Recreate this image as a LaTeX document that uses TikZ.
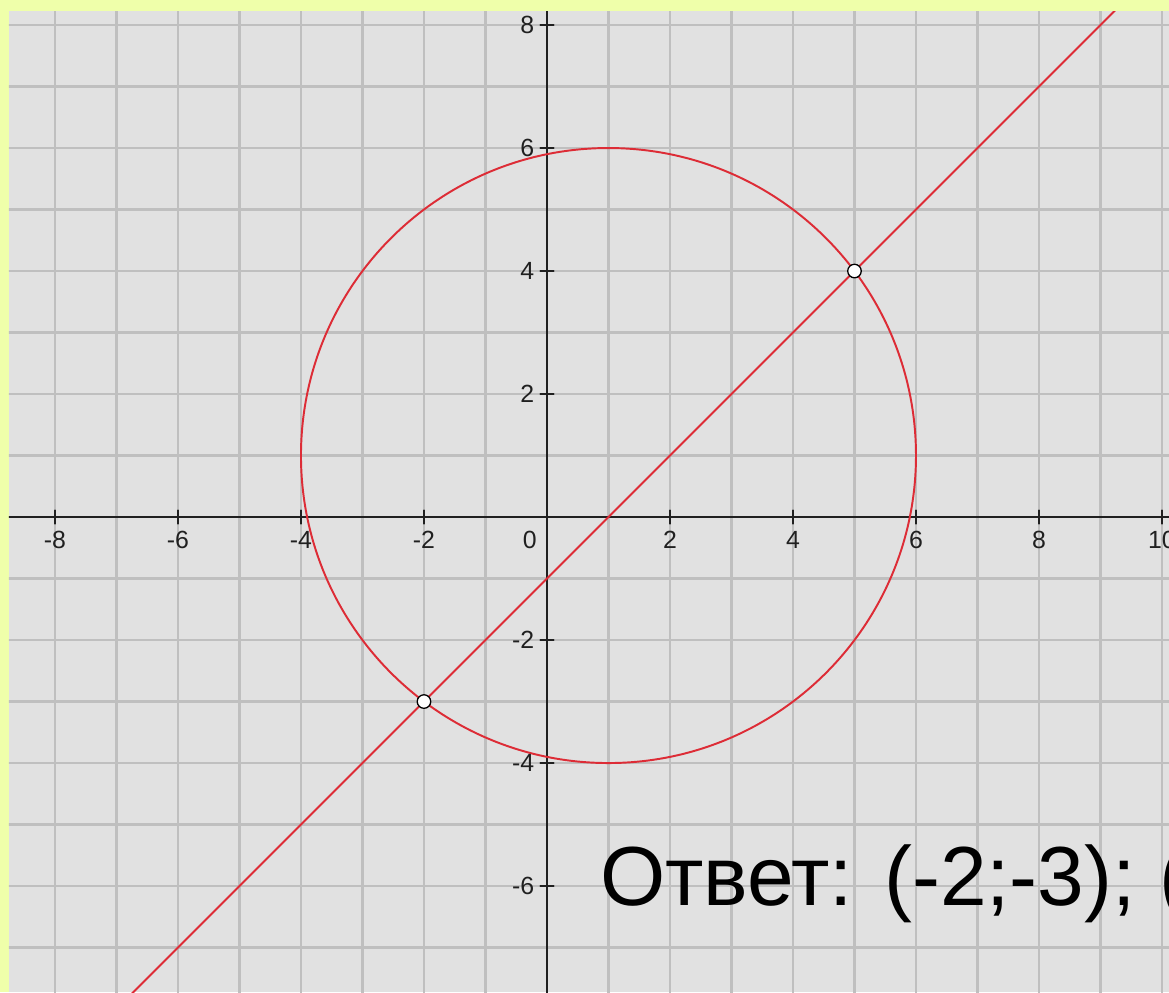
\documentclass[tikz,border=0pt]{standalone}
\usepackage{fontspec}
\setmainfont{Liberation Sans}
\begin{document}
\begin{tikzpicture}[x=1cm,y=1cm,line cap=round,line join=round]
\definecolor{pagebg}{HTML}{EFFFAA}
\definecolor{plotbg}{HTML}{E1E1E1}
\definecolor{gridline}{HTML}{BFBFBF}
\definecolor{axisline}{HTML}{202020}
\definecolor{curvered}{HTML}{DD2C36}
\tikzset{
  ticklabel/.style={inner sep=0pt,text=axisline,font=\fontsize{11.5}{12}\selectfont},
  crosspoint/.style={circle,draw=black,fill=white,inner sep=0pt,minimum size=0.22cm,line width=0.6pt}
}

\useasboundingbox[fill=pagebg] (-8.894,-7.724) rectangle (10.114,8.407);
\fill[plotbg] (-8.748,-7.724) rectangle (10.114,8.228);

\begin{scope}
  \clip (-8.748,-7.724) rectangle (10.114,8.228);
  % grid, one line per unit
  \foreach \x in {-8,...,10}
    \draw[gridline,line width=1pt] (\x,-7.8) -- (\x,8.3);
  \foreach \y in {-7,...,8}
    \draw[gridline,line width=1pt] (-8.8,\y) -- (10.2,\y);

  % axes
  \draw[axisline,line width=0.9pt] (-8.8,0) -- (10.2,0);
  \draw[axisline,line width=0.9pt] (0,-7.8) -- (0,8.3);

  % circle and line
  \draw[curvered,line width=0.9pt] (1,1) circle [radius=5];
  \draw[curvered,line width=0.9pt] (-7,-8) -- (9.5,8.5);
\end{scope}

% ticks and labels
\foreach \x in {-8,-6,-4,-2,2,4,6,8,10} {
  \draw[axisline,line width=0.8pt] (\x,-0.11) -- (\x,0.11);
  \node[ticklabel,anchor=north] (xl\x) at (\x,-0.23) {\x};
}
\foreach \y in {-6,-4,-2,2,4,6,8} {
  \draw[axisline,line width=0.8pt] (-0.11,\y) -- (0.11,\y);
  \node[ticklabel,anchor=east] (yl\y) at (-0.2,\y) {\y};
}
\node[ticklabel,anchor=north] (zero) at (-0.28,-0.23) {0};

% intersection points
\node[crosspoint] (lowpt) at (-2,-3) {};
\node[crosspoint] (highpt) at (5,4) {};

\node[anchor=base west,inner sep=0pt,font=\fontsize{38.8}{45}\selectfont] (answer)
  at (0.86,-6.31) {Ответ: (-2;-3); (};
\end{tikzpicture}
\end{document}
